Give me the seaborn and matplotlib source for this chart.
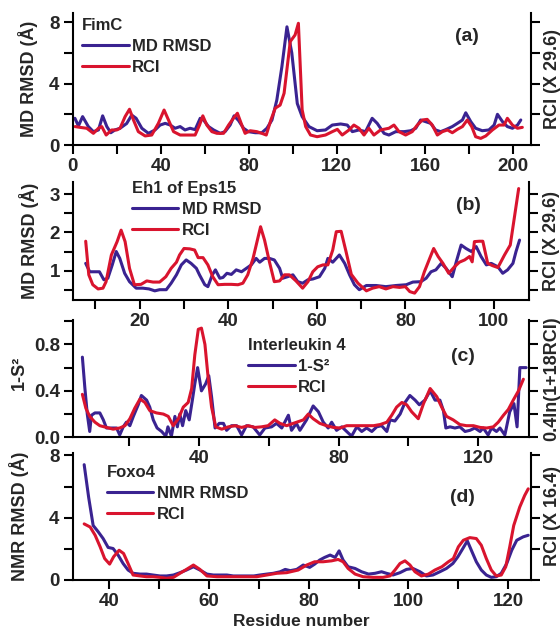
import matplotlib
matplotlib.use('Agg')
import matplotlib.pyplot as plt
from matplotlib.ticker import MultipleLocator, FormatStrFormatter
import seaborn as sns

sns.set_style('ticks')
plt.rcParams['font.family'] = ['Liberation Sans', 'DejaVu Sans']
plt.rcParams['font.weight'] = 'bold'
plt.rcParams['axes.labelweight'] = 'bold'

BLUE = '#3a2391'
RED = '#d9142e'

# ---- (a) FimC ----
a_md_x = [1, 2.6, 4.5, 7.1, 9.4, 11.7, 13.6, 15.5, 17.3, 19.2,
          21.5, 24.5, 26.8, 28.8, 31.4, 34.4, 37.4, 39.7, 42, 44.3,
          46.5, 48.8, 51, 53.3, 55.6, 57.9, 59.4, 61.7, 64, 67,
          69.2, 71.5, 73.3, 75.3, 77.6, 79.8, 82.9, 85.9, 88.2, 90.5,
          92.7, 95, 97.3, 99.5, 102, 104.2, 107.3, 111, 114.8, 117.9,
          121.7, 124.7, 127, 130, 133, 136, 138.3, 141.4, 143.6, 146.7,
          150.5, 153.5, 155.8, 158, 160.3, 162.6, 164.8, 167.1, 169.4, 172.4,
          174.7, 177, 178.5, 180.8, 183, 186, 189, 191.4, 192.9, 195.2,
          197.4, 199.7, 202, 203.5]
a_md_y = [1.74, 1.24, 1.85, 1.2, 0.87, 0.98, 1.9, 1.2, 0.8, 0.98,
          1.09, 1.4, 1.95, 1.74, 1.09, 0.76, 0.98, 1.3, 1.41, 1.3,
          1.09, 1.2, 0.98, 1.09, 1.0, 1.74, 1.63, 1.2, 0.98, 0.76,
          0.87, 1.3, 1.9, 1.6, 1.09, 0.87, 0.8, 0.8, 1.09, 1.63,
          2.93, 5.1, 7.7, 6.0, 2.7, 1.85, 1.2, 0.93, 0.98, 1.3,
          1.37, 1.3, 0.87, 0.98, 0.87, 1.74, 1.41, 0.76, 0.65, 0.87,
          0.87, 0.93, 1.09, 1.63, 1.52, 1.41, 0.98, 0.87, 1.0, 1.2,
          1.41, 1.63, 2.1, 1.52, 1.09, 0.93, 0.98, 1.3, 2.0, 1.52,
          1.2, 1.09, 1.3, 1.63]
a_rci_x = [1.1, 3.3, 6.4, 9.4, 11.7, 13.2, 15.2, 17.7, 20, 21.5,
           23.8, 25.8, 27.6, 29.8, 32.9, 35.9, 38.9, 41.5, 43.5, 45.8,
           48.8, 52.5, 55.6, 57.6, 59.1, 60.9, 63.2, 65.5, 68.5, 70.8,
           73, 74.8, 76.8, 78.3, 80.6, 83.6, 85.9, 87.9, 90, 92,
           94.2, 96, 98.8, 101, 102.5, 104.2, 105.8, 108, 111, 114.8,
           117.9, 120.2, 122.4, 125.5, 127.7, 130, 132.3, 134.5, 136.8, 139.8,
           143.6, 145.9, 148.2, 151.2, 154.2, 156.5, 158.8, 161, 163.3, 165.6,
           167.9, 170.2, 172.4, 174.7, 177, 179.2, 181.2, 183, 185.3, 187.6,
           190.6, 193.6, 195.9, 197.4, 199.7, 202, 204.2]
a_rci_y = [1.2, 1.15, 1.09, 0.76, 1.09, 1.2, 0.65, 0.98, 0.98, 1.09,
           1.85, 2.33, 1.63, 0.87, 0.59, 0.65, 1.41, 2.28, 1.63, 0.87,
           0.65, 0.65, 0.65, 1.3, 1.9, 1.3, 0.87, 0.76, 0.76, 1.3,
           1.74, 2.07, 1.3, 0.76, 0.93, 0.87, 0.76, 0.65, 1.63, 2.4,
           2.6, 3.37, 6.74, 7.17, 7.93, 2.3, 1.2, 0.65, 0.54, 0.65,
           0.87, 1.02, 0.65, 0.98, 1.3, 1.09, 0.65, 1.09, 0.65, 0.98,
           1.09, 1.3, 0.87, 0.65, 0.87, 1.3, 1.63, 1.67, 1.3, 0.65,
           0.87, 0.98, 0.8, 1.02, 1.2, 1.63, 1.2, 0.54, 0.43, 0.59,
           0.98, 1.3, 1.3, 1.74, 1.3, 1.09, 1.15]

# ---- (b) Eh1 of Eps15 ----
b_md_x = [7.8, 8.7, 9.8, 10.9, 11.9, 12.8, 13.8, 14.7, 15.5, 16.6,
          17.7, 19.2, 20.7, 22.1, 23.4, 24.5, 26, 27.1, 28.3, 29.4,
          30.5, 31.6, 32.8, 33.5, 34.7, 35.4, 36.4, 37.1, 38.1, 38.8,
          39.7, 40.7, 41.8, 43, 44.1, 45.2, 46.3, 47.1, 48.2, 49.3,
          50.4, 51.6, 52.3, 53.4, 54.6, 55.7, 56.8, 58, 59.1, 60.6,
          61.8, 62.5, 63.6, 65.1, 66.3, 67.4, 68.5, 69.6, 71.2, 73.4,
          75.6, 77.9, 80.2, 81.7, 83.5, 84.7, 85.8, 86.9, 88.1, 89.2,
          90.6, 91.5, 92.6, 93.7, 94.9, 96, 97.1, 98.3, 99.4, 100.9,
          102, 103.1, 104.3, 105, 105.8]
b_md_y = [1.19, 0.97, 0.97, 0.97, 0.76, 0.8, 1.15, 1.5, 1.32, 0.93,
          0.71, 0.54, 0.54, 0.52, 0.47, 0.5, 0.5, 0.67, 0.89, 1.15,
          1.28, 1.19, 1.06, 0.89, 0.63, 0.58, 0.89, 1.02, 0.8, 0.82,
          0.93, 0.9, 1.02, 0.97, 1.06, 1.15, 1.32, 1.22, 1.32, 1.32,
          1.28, 1.06, 0.8, 0.84, 0.89, 0.71, 0.67, 0.76, 0.78, 0.84,
          1.06, 1.32, 1.22, 1.41, 1.19, 0.89, 0.63, 0.5, 0.61, 0.61,
          0.58, 0.61, 0.63, 0.7, 0.71, 0.8, 0.97, 1.02, 1.19, 1.06,
          0.84, 1.23, 1.67, 1.58, 1.5, 1.63, 1.37, 1.15, 1.19, 1.1,
          0.93, 1.02, 1.19, 1.5, 1.8]
b_rci_x = [7.8, 8.5, 9.4, 10.6, 11.7, 12.4, 13.6, 14.9, 15.8, 16.7,
           17.7, 18.8, 20.3, 21.6, 23, 24.5, 25.9, 27.1, 28.3, 29,
           30, 31.3, 32.4, 33.2, 34.3, 35.4, 36.5, 37.7, 39.2, 40.7,
           42.2, 43.3, 44.4, 45.6, 46.5, 47.3, 48.2, 49.3, 50.4, 51.6,
           52.7, 53.8, 55.3, 56.8, 58, 59.1, 60.2, 61.4, 62.5, 63.6,
           64.4, 65.5, 66.6, 67.8, 69.3, 71.2, 72.6, 74.1, 75.6, 77.2,
           78.7, 80, 81, 82.1, 83.2, 84.3, 85.5, 86.4, 87.4, 88.5,
           89.8, 91.1, 92.2, 93.4, 94.5, 95.1, 95.6, 96.7, 97.5, 98.6,
           99.7, 100.9, 102.4, 103.7, 104.6, 105.6]
b_rci_y = [1.77, 0.89, 0.63, 0.52, 0.54, 0.71, 1.41, 1.76, 2.06, 1.76,
           1.06, 0.63, 0.64, 0.73, 0.7, 0.7, 0.84, 1.06, 1.22, 1.41,
           1.58, 1.57, 1.54, 1.34, 1.34, 1.15, 0.84, 0.63, 0.64, 0.64,
           0.63, 0.67, 0.89, 1.32, 1.76, 2.15, 1.8, 1.23, 0.71, 0.73,
           0.89, 0.89, 0.73, 0.54, 0.71, 0.97, 1.1, 1.15, 1.15, 1.54,
           2.02, 2.03, 1.5, 0.9, 0.67, 0.47, 0.54, 0.58, 0.52, 0.58,
           0.56, 0.58, 0.45, 0.41, 0.58, 0.97, 1.32, 1.58, 1.37, 1.19,
           0.93, 1.1, 1.22, 1.28, 1.37, 1.23, 1.76, 1.77, 1.77, 1.19,
           1.13, 1.08, 1.41, 1.67, 2.37, 3.15]

# ---- (c) Interleukin 4 ----
c_s2_x = [6.6, 7.3, 8, 8.7, 9.2, 10.2, 11.6, 12.6, 13.5, 14.9,
          16.4, 17.3, 18.3, 19.2, 20.2, 21.2, 22.6, 23.5, 25, 25.9,
          26.9, 28, 29.3, 30.5, 31.1, 32.1, 33.1, 33.8, 34.5, 35.3,
          36.2, 37.2, 38.1, 38.8, 39.6, 40.7, 41.9, 42.8, 43.6, 44.6,
          45.8, 47, 47.9, 49.3, 50.8, 52.2, 53.6, 55.5, 57.4, 58.9,
          60.8, 62.2, 63.7, 65.6, 66.5, 67.9, 68.9, 70.8, 72.7, 74.2,
          75.6, 77, 78, 79.4, 80.9, 82.3, 83.7, 85.2, 86.6, 88,
          89.5, 90.9, 92.3, 93.8, 94.7, 96.1, 97.6, 99, 100.4, 101.9,
          103.1, 104.7, 106.2, 107.6, 109, 110, 110.7, 111.9, 113.3, 114.7,
          116.2, 117.6, 119, 120.5, 121.4, 122.8, 123.8, 125.2, 126.2, 127.6,
          129, 130.2, 131.1, 131.9, 133.7]
c_s2_y = [0.69, 0.43, 0.2, 0.05, 0.19, 0.21, 0.21, 0.15, 0.08, 0.08,
          0.08, 0.02, 0.09, 0.13, 0.1, 0.18, 0.28, 0.36, 0.32, 0.26,
          0.15, 0.08, 0.05, 0.01, 0.09, 0.01, 0.18, 0.09, 0.2, 0.1,
          0.23, 0.15, 0.32, 0.46, 0.6, 0.4, 0.46, 0.53, 0.35, 0.08,
          0.12, 0.12, 0.06, 0.1, 0.1, 0.02, 0.1, 0.09, 0.02, 0.08,
          0.09, 0.12, 0.08, 0.19, 0.06, 0.12, 0.06, 0.15, 0.27, 0.22,
          0.13, 0.08, 0.13, 0.06, 0.09, 0.05, 0.01, 0.09, 0.05, 0.08,
          0.05, 0.09, 0.1, 0.05, 0.15, 0.14, 0.2, 0.3, 0.36, 0.32,
          0.28, 0.32, 0.4, 0.32, 0.32, 0.23, 0.08, 0.09, 0.08, 0.09,
          0.05, 0.06, 0.08, 0.05, 0.08, 0.02, 0.08, 0.05, 0.08, 0.02,
          0.22, 0.29, 0.09, 0.6, 0.6]
c_rci_x = [6.6, 7.6, 8.7, 10.2, 11.6, 13.5, 15.4, 17.3, 18.8, 20.2,
           21.6, 23.1, 24.5, 25.9, 27.8, 29.8, 31.2, 32.6, 34.1, 35.5,
           36.9, 37.9, 38.8, 39.8, 40.7, 41.7, 42.6, 43.6, 44.8, 46.5,
           48.4, 50.3, 52.2, 54.1, 56, 57.9, 59.8, 61.7, 63.2, 65.1,
           67, 69.9, 71.3, 72.7, 74.6, 76.5, 78.5, 80.4, 82.3, 84.2,
           86.1, 88, 90, 91.9, 93.8, 95.2, 96.6, 98.1, 99.5, 100.9,
           102.8, 104.3, 106.2, 108.1, 109.5, 110.9, 112.8, 114.7, 116.6, 118.6,
           120.5, 122.4, 124.3, 125.7, 127.2, 128.6, 130, 131.5, 132.9]
c_rci_y = [0.37, 0.25, 0.18, 0.13, 0.1, 0.085, 0.07, 0.08, 0.1, 0.16,
           0.25, 0.33, 0.3, 0.23, 0.21, 0.2, 0.18, 0.1, 0.16, 0.26,
           0.3, 0.42, 0.71, 0.93, 0.94, 0.8, 0.52, 0.26, 0.09, 0.07,
           0.09, 0.1, 0.085, 0.1, 0.085, 0.09, 0.1, 0.15, 0.12, 0.1,
           0.12, 0.15, 0.2, 0.16, 0.12, 0.1, 0.085, 0.08, 0.1, 0.1,
           0.1, 0.1, 0.1, 0.11, 0.13, 0.19, 0.26, 0.3, 0.28, 0.22,
           0.16, 0.29, 0.42, 0.35, 0.26, 0.18, 0.15, 0.11, 0.1, 0.1,
           0.085, 0.08, 0.09, 0.13, 0.19, 0.24, 0.32, 0.4, 0.5]

# ---- (d) Foxo4 ----
d_nmr_x = [35, 35.9, 36.8, 37.8, 38.8, 39.8, 40.8, 41.8, 42.8, 43.8,
           44.8, 46.2, 47.5, 48.8, 50.2, 51.5, 52.9, 54.2, 55.5, 56.9,
           58.2, 59.6, 60.9, 62.3, 63.6, 64.9, 66.3, 67.6, 69, 70.2,
           71.6, 72.9, 74.3, 75.3, 76.3, 77.6, 78.9, 80.2, 81.2, 82.2,
           83.2, 84.3, 85.3, 86.1, 86.9, 87.9, 89.3, 90.6, 92, 93.3,
           94.6, 95.6, 96.9, 98.3, 99.6, 100.9, 102.3, 103.6, 104.9, 106.3,
           107.6, 108.9, 109.9, 110.9, 111.8, 112.6, 113.6, 114.6, 115.6, 116.6,
           117.6, 118.6, 119.7, 120.7, 121.7, 123, 124]
d_nmr_y = [7.4, 5.3, 3.5, 3.1, 2.66, 2.09, 2.02, 1.6, 1.06, 0.64,
           0.43, 0.38, 0.38, 0.32, 0.26, 0.26, 0.32, 0.47, 0.64, 0.85,
           0.64, 0.38, 0.32, 0.32, 0.32, 0.26, 0.26, 0.26, 0.26, 0.32,
           0.38, 0.43, 0.53, 0.68, 0.6, 0.68, 0.96, 0.81, 1.02, 1.28,
           1.45, 1.6, 1.45, 1.87, 1.28, 0.85, 0.74, 0.53, 0.38, 0.43,
           0.53, 0.43, 0.32, 0.47, 0.68, 0.74, 0.53, 0.26, 0.32, 0.53,
           0.74, 1.06, 1.49, 2.02, 2.51, 1.91, 1.17, 0.64, 0.32, 0.17,
           0.21, 0.43, 1.06, 1.91, 2.55, 2.77, 2.87]
d_rci_x = [35, 36.2, 37.2, 38.2, 39.1, 40.1, 40.9, 42, 42.9, 43.8,
           44.8, 46.2, 47.5, 48.8, 50.2, 51.5, 52.9, 54.2, 55.5, 56.9,
           58.2, 59.6, 61.6, 63.6, 65.6, 67.6, 69.6, 71.6, 73.6, 75.6,
           77.9, 79.6, 81.2, 82.9, 84.6, 85.9, 86.9, 87.9, 89.3, 90.9,
           92.9, 94.9, 96.3, 97.3, 98.3, 99.3, 100.3, 101.3, 102.6, 104,
           105.3, 106.7, 108, 109, 110, 111, 112.3, 113.6, 114.6, 115.6,
           116.6, 117.6, 118.6, 119.5, 120.3, 121.1, 122.3, 123.3, 124]
d_rci_y = [3.6, 3.4, 2.87, 2.13, 1.38, 1.02, 1.49, 1.91, 1.7, 1.06,
           0.32, 0.26, 0.21, 0.21, 0.17, 0.11, 0.17, 0.43, 0.68, 0.96,
           0.68, 0.26, 0.21, 0.21, 0.21, 0.21, 0.21, 0.32, 0.43, 0.47,
           0.64, 0.96, 1.17, 1.17, 1.23, 1.32, 1.17, 0.74, 0.38, 0.21,
           0.17, 0.17, 0.26, 0.64, 1.06, 1.23, 0.96, 0.53, 0.26, 0.38,
           0.64, 0.85, 1.17, 1.38, 2.13, 2.55, 2.72, 2.66, 2.23, 1.38,
           0.64, 0.26, 0.32, 0.85, 2.13, 3.5, 4.68, 5.43, 5.85]

W, H = 560, 633
fig = plt.figure(figsize=(W / 100, H / 100), dpi=100)


def make_axes(left, right, top, bottom):
    ax = fig.add_axes([left / W, 1 - bottom / H, (right - left) / W, (bottom - top) / H])
    ax.patch.set_visible(False)  # don't hide tick labels of the panel above
    return ax


def style(ax, xlim, ylim, xmaj, xmin, ymaj, ymin, yfmt='%d'):
    ax.set_xlim(xlim)
    ax.set_ylim(ylim)
    ax.xaxis.set_major_locator(MultipleLocator(xmaj))
    ax.xaxis.set_minor_locator(MultipleLocator(xmin))
    ax.yaxis.set_major_locator(MultipleLocator(ymaj))
    ax.yaxis.set_minor_locator(MultipleLocator(ymin))
    ax.yaxis.set_major_formatter(FormatStrFormatter(yfmt))
    ax.tick_params(which='both', direction='out', length=6.5, width=1.5,
                   labelsize=13.5, pad=3, right=True, top=False, color='black')
    ax.spines['top'].set_visible(False)
    for s in ['left', 'right', 'bottom']:
        ax.spines[s].set_linewidth(1.5)
        ax.spines[s].set_color('black')
    ax.set_xlabel('')


def draw(ax, x1, y1, lab1, x2, y2, lab2):
    sns.lineplot(x=x1, y=y1, ax=ax, color=BLUE, lw=2.2, label=lab1, estimator=None)
    sns.lineplot(x=x2, y=y2, ax=ax, color=RED, lw=2.2, label=lab2, estimator=None)


def legend(ax, title, anchor):
    ax.legend(title=title, loc='upper left', bbox_to_anchor=anchor, frameon=False,
              fontsize=12, title_fontproperties={'weight': 'bold', 'size': 12},
              handlelength=2.8, handletextpad=0.2, labelspacing=0.35,
              borderpad=0, borderaxespad=0, alignment='left')


def right_label(ax, text, x=1.03):
    ax.text(x, 0.5, text, transform=ax.transAxes, rotation=90,
            ha='left', va='center', fontsize=13)


# (a)
ax = make_axes(72.7, 530.7, 13, 145)
draw(ax, a_md_x, a_md_y, 'MD RMSD', a_rci_x, a_rci_y, 'RCI')
style(ax, (0, 208), (0, 8.6), 40, 20, 4, 2)
legend(ax, 'FimC', (0.02, 0.96))
ax.set_ylabel('MD RMSD (Å)', fontsize=13)
ax.yaxis.set_label_coords(-0.075, 0.5)
right_label(ax, 'RCI (X 29.6)')
ax.text(0.86, 0.82, '(a)', transform=ax.transAxes, fontsize=14, ha='center', va='center')

# (b)
ax = make_axes(73.3, 529.3, 181.7, 300)
draw(ax, b_md_x, b_md_y, 'MD RMSD', b_rci_x, b_rci_y, 'RCI')
style(ax, (5, 108), (0.23, 3.33), 20, 10, 1, 0.5)
legend(ax, 'Eh1 of Eps15', (0.128, 1.005))
ax.set_ylabel('MD RMSD (Å)', fontsize=13)
ax.yaxis.set_label_coords(-0.075, 0.5)
right_label(ax, 'RCI (X 29.6)')
ax.text(0.866, 0.80, '(b)', transform=ax.transAxes, fontsize=14, ha='center', va='center')

# (c)
ax = make_axes(73.3, 529.3, 320, 437.3)
draw(ax, c_s2_x, c_s2_y, '1-S²', c_rci_x, c_rci_y, 'RCI')
style(ax, (4, 134.6), (0, 1.01), 40, 20, 0.4, 0.2, '%.1f')
legend(ax, 'Interleukin 4', (0.383, 0.847))
ax.set_ylabel('1-S²', fontsize=13)
ax.yaxis.set_label_coords(-0.1, 0.55)
right_label(ax, '0.4ln(1+18RCI)')
ax.text(0.855, 0.69, '(c)', transform=ax.transAxes, fontsize=14, ha='center', va='center')

# (d)
ax = make_axes(72.7, 530.7, 453, 580)
draw(ax, d_nmr_x, d_nmr_y, 'NMR RMSD', d_rci_x, d_rci_y, 'RCI')
style(ax, (32.7, 124.5), (0, 8.15), 20, 10, 4, 2)
legend(ax, 'Foxo4', (0.074, 0.905))
ax.set_ylabel('NMR RMSD (Å)', fontsize=13)
ax.yaxis.set_label_coords(-0.095, 0.5)
ax.set_xlabel('Residue number', fontsize=12.5, labelpad=3)
right_label(ax, 'RCI (X 16.4)')
ax.text(0.85, 0.65, '(d)', transform=ax.transAxes, fontsize=14, ha='center', va='center')

fig.savefig('out.png', dpi=100)
